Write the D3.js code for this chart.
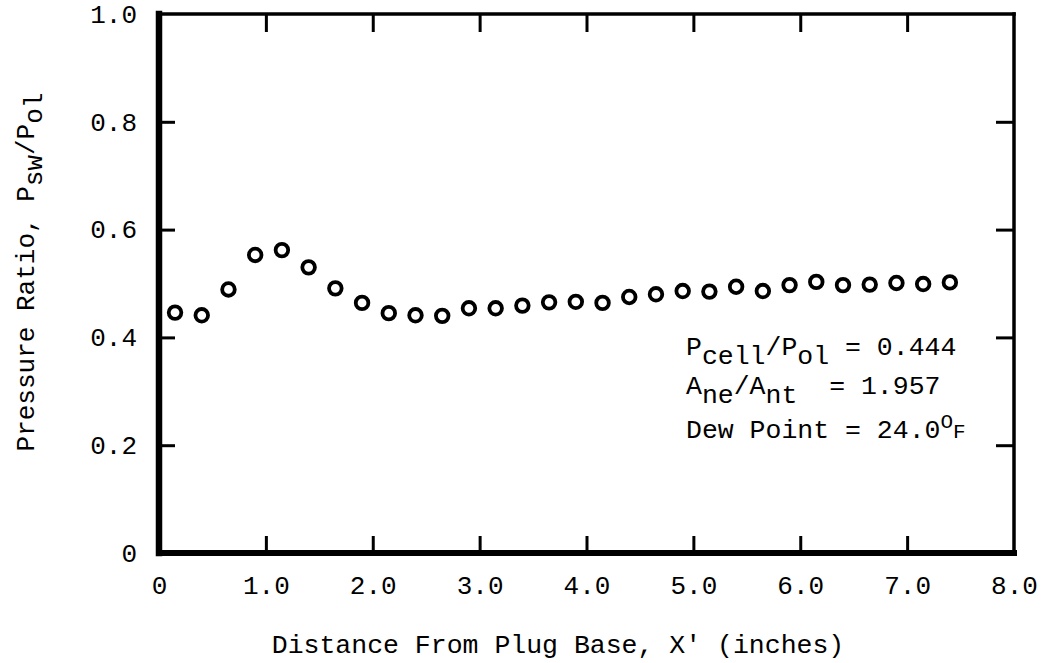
<!DOCTYPE html>
<html>
<head>
<meta charset="utf-8">
<script src="https://cdn.jsdelivr.net/npm/d3@7"></script>
<style>
  body { margin: 0; background: #fff; }
  svg { display: block; }
  text { font-family: "Liberation Mono", "Courier New", monospace; fill: #000; white-space: pre; }
</style>
</head>
<body>
<svg id="chart" width="1050" height="663"></svg>
<script>
// distance from plug base, inches
const xValues = [0.15, 0.40, 0.65, 0.90, 1.15, 1.40, 1.65, 1.90, 2.15, 2.40,
                 2.65, 2.90, 3.15, 3.40, 3.65, 3.90, 4.15, 4.40, 4.65, 4.90,
                 5.15, 5.40, 5.65, 5.90, 6.15, 6.40, 6.65, 6.90, 7.15, 7.40];
// pressure ratio Psw/Pol
const yValues = [0.446, 0.441, 0.489, 0.553, 0.562, 0.530, 0.491, 0.464, 0.445, 0.441,
                 0.440, 0.454, 0.454, 0.459, 0.465, 0.466, 0.464, 0.475, 0.480, 0.486,
                 0.485, 0.494, 0.486, 0.497, 0.503, 0.497, 0.498, 0.501, 0.499, 0.502];

const xTicks = [0, 1, 2, 3, 4, 5, 6, 7, 8];
const xTickLabels = ["0", "1.0", "2.0", "3.0", "4.0", "5.0", "6.0", "7.0", "8.0"];
const yTicks = [0, 0.2, 0.4, 0.6, 0.8, 1.0];
const yTickLabels = ["0", "0.2", "0.4", "0.6", "0.8", "1.0"];
const innerX = [1, 2, 3, 4, 5, 6, 7];
const innerY = [0.2, 0.4, 0.6, 0.8];

const fontSize = 26;

const svg = d3.select("#chart");

const attr_area = {
    left: 159,
    right: 1014,
    top: 14,
    bottom: 553
};

const scX = d3.scaleLinear().domain([0, 8]).range([attr_area.left, attr_area.right]);
const scY = d3.scaleLinear().domain([0, 1]).range([attr_area.bottom, attr_area.top]);

function styleAxis(g, width) {
    g.select(".domain").remove();
    g.selectAll(".tick line").attr("stroke", "#000").attr("stroke-width", width);
    g.selectAll(".tick text").attr("font-size", fontSize).attr("fill", "#000")
        .style("font-family", '"Liberation Mono", "Courier New", monospace');
}

// bottom axis with labels, ticks pointing inward
svg.append("g")
    .attr("transform", `translate(0,${attr_area.bottom})`)
    .call(d3.axisBottom(scX).tickValues(xTicks)
        .tickFormat((d, i) => xTickLabels[i])
        .tickSizeInner(-17).tickSizeOuter(0).tickPadding(23))
    .call(g => styleAxis(g, 3))
    .call(g => g.selectAll(".tick line").filter(d => innerX.indexOf(d) < 0).remove());

// left axis with labels
svg.append("g")
    .attr("transform", `translate(${attr_area.left},0)`)
    .call(d3.axisLeft(scY).tickValues(yTicks)
        .tickFormat((d, i) => yTickLabels[i])
        .tickSizeInner(-16).tickSizeOuter(0).tickPadding(22))
    .call(g => styleAxis(g, 3))
    .call(g => g.selectAll(".tick line").filter(d => innerY.indexOf(d) < 0).remove());

// top and right axes, ticks only
svg.append("g")
    .attr("transform", `translate(0,${attr_area.top})`)
    .call(d3.axisTop(scX).tickValues(innerX).tickFormat("").tickSizeInner(-18).tickSizeOuter(0))
    .call(g => styleAxis(g, 3));

svg.append("g")
    .attr("transform", `translate(${attr_area.right},0)`)
    .call(d3.axisRight(scY).tickValues(innerY).tickFormat("").tickSizeInner(-18).tickSizeOuter(0))
    .call(g => styleAxis(g, 3));

// frame: heavy left/bottom, lighter top/right
const frame = svg.append("g").attr("stroke", "#000").attr("stroke-linecap", "square");
frame.append("line")
    .attr("x1", scX(0)).attr("y1", scY(1)).attr("x2", scX(8)).attr("y2", scY(1))
    .attr("stroke-width", 3.5);
frame.append("line")
    .attr("x1", scX(8)).attr("y1", scY(1)).attr("x2", scX(8)).attr("y2", scY(0))
    .attr("stroke-width", 3.5);
frame.append("line")
    .attr("x1", scX(0)).attr("y1", scY(1)).attr("x2", scX(0)).attr("y2", scY(0))
    .attr("stroke-width", 6.5);
frame.append("line")
    .attr("x1", scX(0)).attr("y1", scY(0)).attr("x2", scX(8)).attr("y2", scY(0))
    .attr("stroke-width", 6);

// data points, open circles
svg.append("g").selectAll("circle")
    .data(xValues.map((x, i) => [x, yValues[i]]))
    .enter()
    .append("circle")
    .attr("cx", d => scX(d[0]))
    .attr("cy", d => scY(d[1]))
    .attr("r", 6.3)
    .style("fill", "#fff")
    .style("stroke", "#000")
    .style("stroke-width", 3.8);

// axis titles
svg.append("text")
    .attr("x", 558)
    .attr("y", 653)
    .attr("text-anchor", "middle")
    .attr("font-size", fontSize + 0.5)
    .text("Distance From Plug Base, X' (inches)");

const yTitle = svg.append("text")
    .attr("transform", "translate(34,272) rotate(-90)")
    .attr("text-anchor", "middle")
    .attr("font-size", fontSize);
yTitle.append("tspan").text("Pressure Ratio, P");
yTitle.append("tspan").attr("dy", 8).text("sw");
yTitle.append("tspan").attr("dy", -8).text("/P");
yTitle.append("tspan").attr("dy", 8).text("ol");

// run conditions
const note = svg.append("g").attr("font-size", fontSize + 0.5);
const n1 = note.append("text").attr("x", 686).attr("y", 355);
n1.append("tspan").text("P");
n1.append("tspan").attr("dy", 9).text("cell");
n1.append("tspan").attr("dy", -9).text("/P");
n1.append("tspan").attr("dy", 9).text("ol");
n1.append("tspan").attr("dy", -9).text(" = 0.444");

const n2 = note.append("text").attr("x", 686).attr("y", 394);
n2.append("tspan").text("A");
n2.append("tspan").attr("dy", 9).text("ne");
n2.append("tspan").attr("dy", -9).text("/A");
n2.append("tspan").attr("dy", 9).text("nt");
n2.append("tspan").attr("dy", -9).text("  = 1.957");

const n3 = note.append("text").attr("x", 686).attr("y", 438);
n3.append("tspan").text("Dew Point = 24.0");
n3.append("tspan").attr("dy", -10).attr("font-size", 21).text("O");
n3.append("tspan").attr("dy", 10).attr("font-size", 21).text("F");
</script>
</body>
</html>
